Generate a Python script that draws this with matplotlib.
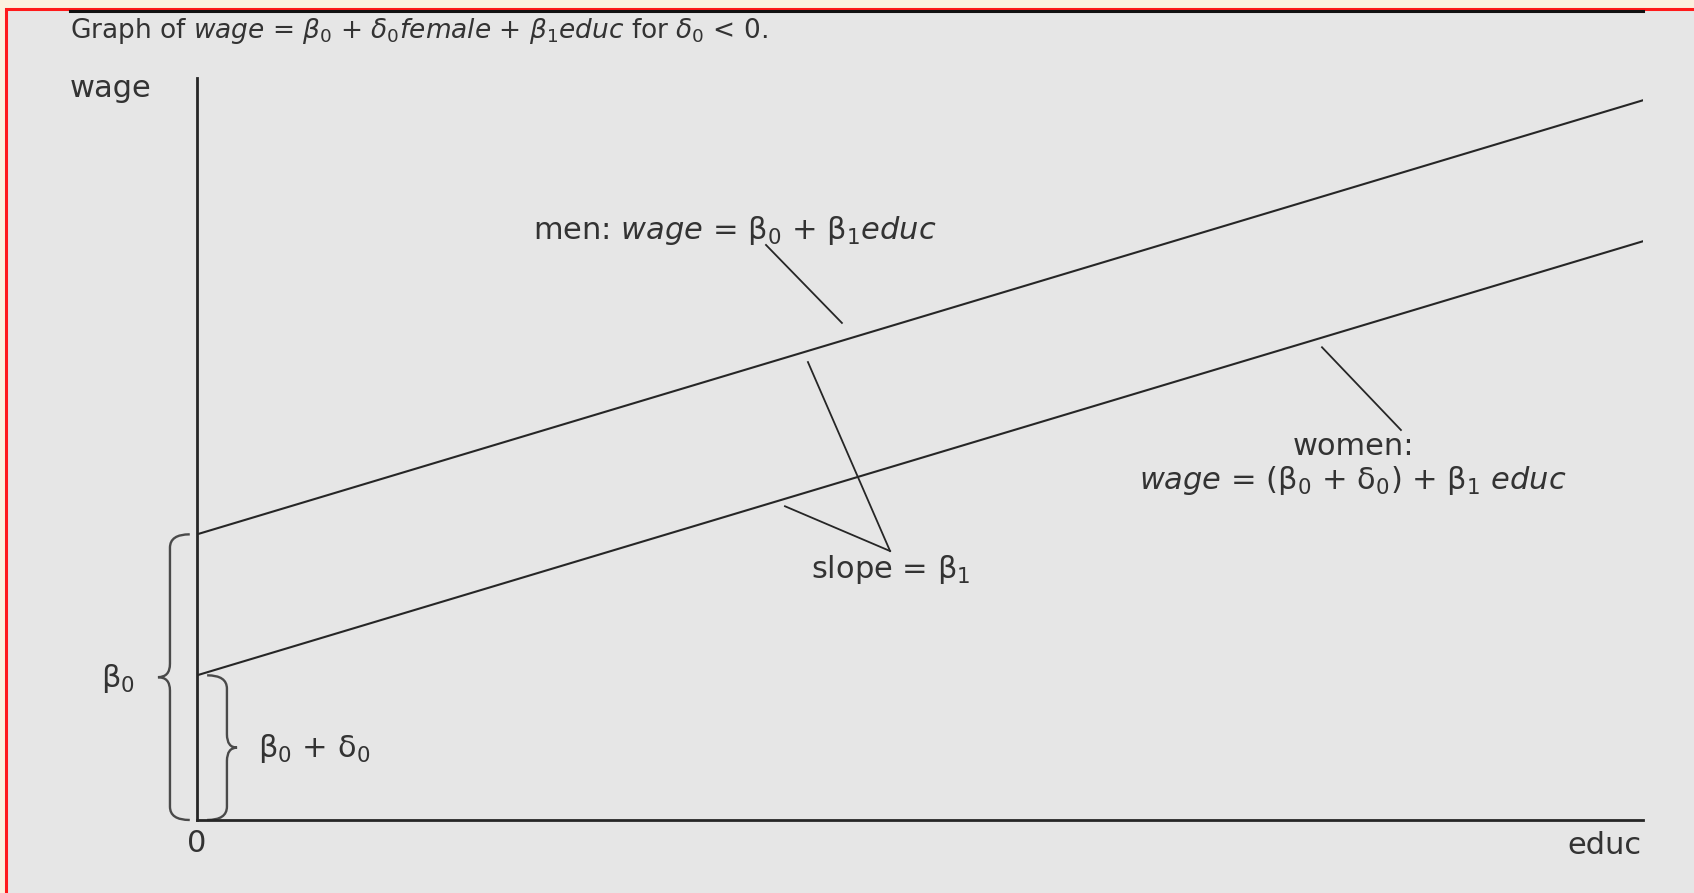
import numpy as np
import matplotlib
matplotlib.use('Agg')
import matplotlib.pyplot as plt
from matplotlib.patches import Rectangle, PathPatch
from matplotlib.path import Path

plt.rcParams['font.family'] = ['DejaVu Sans']
plt.rcParams['mathtext.fontset'] = 'dejavusans'

# model: wage = beta0 + delta0*female + beta1*educ  (delta0 < 0)
educ = np.array([0.0, 10.0])
beta0 = 3.85
delta0 = -1.9
beta1 = 0.585
wage_men = beta0 + beta1 * educ
wage_women = (beta0 + delta0) + beta1 * educ

title = ("Graph of $\\mathit{wage}$ = $\\beta_0$ + $\\delta_0\\mathit{female}$ + "
         "$\\beta_1\\mathit{educ}$ for $\\delta_0$ < 0.")
men_label = "men: $\\mathit{wage}$ = β$_0$ + β$_1$$\\mathit{educ}$"
women_label1 = "women:"
women_label2 = "$\\mathit{wage}$ = (β$_0$ + δ$_0$) + β$_1$ $\\mathit{educ}$"
slope_label = "slope = β$_1$"

ink = '#262626'
txt = '#333333'
fs = 22

fig = plt.figure(figsize=(16.94, 8.93), dpi=100, facecolor='#fbf1df')
# grey panel with red frame, kept behind the axes
fig.patches.append(Rectangle((6 / 1694, -0.05), 1.1, 1 - 9 / 893 + 0.05,
                             transform=fig.transFigure, facecolor='#e6e6e6',
                             edgecolor='#ff1a1a', lw=2.2, zorder=-5))

ax = fig.add_axes([197 / 1694, 73 / 893, 1446 / 1694, 742 / 893])
ax.set_facecolor('none')
ax.set_xlim(0, 10)
ax.set_ylim(0, 10)
for s in ['top', 'right']:
    ax.spines[s].set_visible(False)
for s in ['left', 'bottom']:
    ax.spines[s].set_linewidth(2.0)
    ax.spines[s].set_color(ink)
ax.set_xticks([])
ax.set_yticks([])

# the two wage lines
ax.plot(educ, wage_men, color=ink, lw=1.5)
ax.plot(educ, wage_women, color=ink, lw=1.5)


def on_men(x):
    return beta0 + beta1 * x


def on_women(x):
    return beta0 + delta0 + beta1 * x


def leader(x0, y0, x1, y1):
    ax.plot([x0, x1], [y0, y1], color=ink, lw=1.3, clip_on=False)


# leader lines
leader(3.935, 7.75, 4.46, on_men(4.46) + 0.24)
leader(4.225, on_men(4.225) - 0.15, 4.793, 3.625)
leader(4.066, on_women(4.066) - 0.1, 4.793, 3.625)
leader(7.78, on_women(7.78) - 0.13, 8.326, 5.256)


def brace(x_stem, x_end, x_tip, y0, y1, ry=0.18):
    ym = (y0 + y1) / 2
    verts = [(x_end, y1), (x_stem, y1), (x_stem, y1 - ry),
             (x_stem, ym + ry), (x_stem, ym), (x_tip, ym),
             (x_stem, ym), (x_stem, ym - ry),
             (x_stem, y0 + ry), (x_stem, y0), (x_end, y0)]
    codes = [Path.MOVETO, Path.CURVE3, Path.CURVE3,
             Path.LINETO, Path.CURVE3, Path.CURVE3,
             Path.CURVE3, Path.CURVE3,
             Path.LINETO, Path.CURVE3, Path.CURVE3]
    ax.add_patch(PathPatch(Path(verts, codes), facecolor='none',
                           edgecolor='#4a4a4a', lw=1.7, clip_on=False))


brace(-0.187, -0.05, -0.27, 0, wage_men[0])
brace(0.207, 0.07, 0.277, 0, wage_women[0])

# texts
ax.text(-0.878, 10.64, title, fontsize=19, color=txt, ha='left', va='center')
ax.plot([-0.878, 10.0], [10.90, 10.90], color='#111111', lw=2.2, clip_on=False)
ax.text(-0.878, 9.86, "wage", fontsize=fs, color=txt, ha='left', va='center')
ax.text(0, -0.32, "0", fontsize=fs, color=txt, ha='center', va='center')
ax.text(9.99, -0.34, "educ", fontsize=fs, color=txt, ha='right', va='center')
ax.text(2.324, 7.95, men_label, fontsize=fs, color=txt, ha='left', va='center')
ax.text(8.0, 5.03, women_label1, fontsize=fs, color=txt, ha='center', va='center')
ax.text(7.99, 4.58, women_label2, fontsize=fs, color=txt, ha='center', va='center')
ax.text(4.246, 3.38, slope_label, fontsize=fs, color=txt, ha='left', va='center')
ax.text(-0.55, 1.91, "β$_0$", fontsize=fs, color=txt, ha='center', va='center')
ax.text(0.422, 0.97, "β$_0$ + δ$_0$", fontsize=fs, color=txt, ha='left', va='center')

fig.savefig('out.png', dpi=100, facecolor=fig.get_facecolor())
